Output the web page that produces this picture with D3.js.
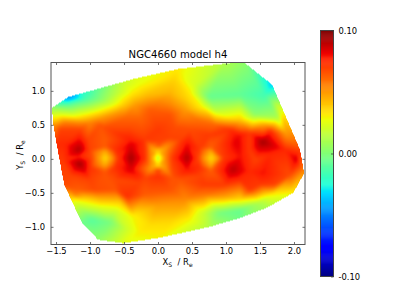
<!DOCTYPE html>
<html>
<head>
<meta charset="utf-8">
<script src="https://cdn.jsdelivr.net/npm/d3@7"></script>
<style>
  html, body { margin: 0; background: #fff; }
  svg { display: block; }
  text { font-family: "DejaVu Sans", sans-serif; fill: #000; }
</style>
</head>
<body>
<div id="chart"></div>
<script>
const titleText = 'NGC4660 model h4';
const xTicks = [-1.5, -1, -0.5, 0, 0.5, 1, 1.5, 2];
const yTicks = [-1, -0.5, 0, 0.5, 1];
const barTicks = [-0.1, 0, 0.1];

// bin positions (in Re) and h4 value
const xs = [
  -1.56, -1.54, -1.49, -1.38, -1.26, -1.12, -0.88, -0.51, 0.03, 0.76, 1.21, 1.60, 1.99, 2.15, 2.09, 1.82, 1.68, 1.25, 0.98, 0.29, -0.34, -0.51, -1.10, -1.32,
  -1.32, -1.07, -0.85, -0.56, -0.29, 0.25, 0.54, 0.47, 0.76, 0.66, 0.84, 1.01, 1.21, 1.57, 1.76, 1.43,
  -1.44, -1.22, -0.85, -0.49, -0.37, -0.16, 0.18, 0.40, 0.54, 0.84, 1.21, 1.57, 1.87,
  -1.44, -1.15, -0.85, -0.49, -0.12, 0.18, 0.47, 0.76, 1.06, 1.35, 1.65, 1.54, 1.87,
  -1.37, -0.78, -0.41, 0, 0.03, 0.32, 0.76, 1.16, -1.03,
  -1.16, -1.15, -0.97, -0.78, -0.59, -0.40, -0.40, -0.40, -0.10, 0.10, -0.10, 0.10, 0, -0.19, 0.21, 0.43, 0.43, 0.43, 0.59, 0.78, 0.97, 1.21, 1.10, 1.43, 1.65, -1.40, 2.04, 1.54, 1.94,
  -1.29, -1.0, -0.78, -0.63, -0.46, -0.26, 0, 0.32, 0.62, 0.99, 1.35, 1.72,
  -1.22, -1.07, -0.85, -0.56, -0.37, 0, 0.40, 0.69, 0.99, 1.21, 1.57, 1.82,
  -0.97, -0.71, -0.46, -0.26, -0.12, 0.18, 0.47, 0.66, 0.91, 1.21, 1.50, 1.68, -0.85, -1.15, -0.63, -0.78,
  0, 0, -0.19, 0.18, -0.19, 0.21, -0.78, -0.78, 0.78, 0.78, -0.87, -0.68, 0.68, 0.88,
  -1.0, -0.26, -0.78, -0.41, 0.25, 1.21, -0.63, -0.63, 0.62, 0.62, -1.0, -1.0,
  -0.63, 0.18, -0.19, 0.69, 1.21, 1.50, -0.93, -1.15, 1.35, 1.35,
  0.04, -0.34, 0.18, 0.40, -0.56, -0.85, -1.15, -1.37,
  0, 0, -0.12, 0.12, -1.16,
  -0.78, -0.78, 0.78, 0.78
];
const ys = [
  0.75, 0.50, 0.21, -0.38, -0.60, -0.94, -1.19, -1.24, -1.16, -1.00, -0.87, -0.72, -0.50, -0.21, 0.13, 0.72, 1.09, 1.43, 1.40, 1.32, 1.18, 1.13, 0.97, 0.91,
  0.79, 0.87, 0.87, 0.99, 1.09, 1.19, 1.09, 0.97, 0.91, 0.76, 0.72, 0.62, 0.94, 0.94, 0.60, 0.65,
  0.65, 0.62, 0.69, 0.79, 0.97, 0.94, 0.97, 0.90, 0.60, 0.50, 0.57, 0.50, 0.38,
  0.43, 0.43, 0.50, 0.60, 0.72, 0.65, 0.43, 0.35, 0.43, 0.38, 0.40, 0.25, 0.13,
  0.21, 0.28, 0.28, 0.43, 0.25, 0.28, 0.24, 0.24, 0.28,
  0.13, -0.07, 0.01, 0.01, 0.01, 0.01, -0.15, 0.19, 0.16, 0.16, -0.14, -0.14, 0.01, 0.01, 0.01, 0.01, 0.19, -0.16, 0.01, 0.01, 0.01, 0.03, -0.16, -0.01, 0.06, -0.01, -0.01, -0.21, -0.24,
  -0.24, -0.31, -0.24, -0.46, -0.56, -0.35, -0.25, -0.31, -0.24, -0.38, -0.46, -0.38,
  -0.53, -0.60, -0.57, -0.63, -0.85, -0.68, -0.60, -0.53, -0.56, -0.60, -0.49, -0.41,
  -0.90, -0.93, -1.04, -1.07, -0.97, -0.93, -0.90, -0.79, -0.79, -0.76, -0.65, -0.53, -0.71, -0.72, -0.79, -1.07,
  0.19, -0.16, 0.28, 0.31, -0.28, -0.28, 0.18, -0.18, 0.18, -0.18, 0.01, 0.01, 0.01, 0.01,
  0.54, 0.60, 0.46, 0.46, 0.46, 0.35, 0.13, -0.13, 0.16, -0.13, 0.13, -0.13,
  -0.31, -0.46, -0.53, -0.38, -0.31, -0.38, -0.46, -0.46, 0.13, -0.19,
  0.87, 0.79, 0.79, 0.72, 0.69, 0.60, 0.54, 0.54,
  0.13, -0.12, 0.01, 0.01, 0.03,
  0.10, -0.08, 0.10, -0.08
];
const h4 = [
  0.005, 0.05, 0.075, 0.068, 0.03, -0.005, 0.005, 0.025, 0.03, 0.012, -0.004, 0.01, 0.03, 0.05, 0.07, 0.03, -0.035, 0.005, 0.012, 0.032, 0.024, 0.018, -0.022, -0.05,
  -0.008, -0.012, 0.002, 0.018, 0.028, 0.036, 0.022, 0.032, -0.006, 0.03, 0.015, 0.03, -0.008, -0.016, 0.012, 0.004,
  0.025, 0.03, 0.033, 0.04, 0.032, 0.042, 0.044, 0.038, 0.058, 0.062, 0.04, 0.048, 0.05,
  0.07, 0.07, 0.066, 0.062, 0.064, 0.066, 0.068, 0.072, 0.074, 0.072, 0.076, 0.094, 0.076,
  0.076, 0.064, 0.078, 0.072, 0.07, 0.07, 0.066, 0.084, 0.07,
  0.092, 0.094, 0.068, 0.035, 0.072, 0.094, 0.085, 0.085, 0.05, 0.05, 0.05, 0.05, 0.015, 0.074, 0.072, 0.092, 0.082, 0.08, 0.07, 0.035, 0.072, 0.08, 0.09, 0.07, 0.076, 0.072, 0.085, 0.08, 0.068,
  0.07, 0.07, 0.066, 0.066, 0.074, 0.07, 0.074, 0.066, 0.07, 0.072, 0.072, 0.07,
  0.055, 0.035, 0.048, 0.04, 0.03, 0.05, 0.054, 0.058, 0.048, 0.035, 0.045, 0.045,
  -0.01, -0.002, 0.02, 0.032, 0.035, 0.036, 0.03, 0.02, -0.002, -0.006, 0.012, 0.03, 0.025, 0.015, 0.018, 0.002,
  0.066, 0.07, 0.072, 0.07, 0.07, 0.066, 0.064, 0.064, 0.064, 0.064, 0.05, 0.05, 0.05, 0.05,
  0.054, 0.062, 0.068, 0.068, 0.068, 0.08, 0.074, 0.074, 0.072, 0.074, 0.07, 0.074,
  0.068, 0.066, 0.064, 0.072, 0.075, 0.072, 0.068, 0.064, 0.072, 0.076,
  0.052, 0.05, 0.055, 0.05, 0.05, 0.05, 0.052, 0.055,
  0.04, 0.04, 0.056, 0.056, 0.078,
  0.045, 0.045, 0.045, 0.045
];

// jet colour table
const jetStops = [0, 0.11, 0.125, 0.34, 0.35, 0.375, 0.64, 0.65, 0.66, 0.89, 0.91, 1];
const jetColors = ['#00007f', '#0000ff', '#0000ff', '#00dbff', '#00e5f7', '#1effd8', '#ecff0a', '#f4f400', '#ffea00', '#ff1e00', '#ed0000', '#7f0000'];

const width = 409, height = 307;
const plot = { left: 51, right: 305, top: 62.5, bottom: 244.5 };
const bar = { left: 320.5, right: 333.5, top: 30.5, bottom: 276.5 };

const x = d3.scaleLinear().domain([-1.574, 2.162]).range([plot.left, plot.right]);
const y = d3.scaleLinear().domain([-1.26, 1.417]).range([plot.bottom, plot.top]);
const norm = d3.scaleLinear().domain([-0.1, 0.1]).range([0, 1]).clamp(true);
const jet = d3.scaleLinear().domain(jetStops).range(jetColors);
const colorOf = (v) => jet(norm(v));

const svg = d3.select('#chart').append('svg').attr('width', width).attr('height', height);

// linear interpolation over the triangulated bins, then a light smooth inside the outline
function rasterMap() {
  const w = plot.right - plot.left, h = Math.round(plot.bottom - plot.top);
  const field = new Float64Array(w * h).fill(NaN);
  const px = xs.map((d) => x(d) - plot.left);
  const py = ys.map((d) => y(d) - plot.top);
  const tri = d3.Delaunay.from(xs.map((d, i) => [px[i], py[i]])).triangles;
  for (let t = 0; t < tri.length; t += 3) {
    const a = tri[t], b = tri[t + 1], c = tri[t + 2];
    const det = (py[b] - py[c]) * (px[a] - px[c]) + (px[c] - px[b]) * (py[a] - py[c]);
    if (!det) continue;
    const x0 = Math.max(0, Math.floor(d3.min([px[a], px[b], px[c]])));
    const x1 = Math.min(w - 1, Math.ceil(d3.max([px[a], px[b], px[c]])));
    const y0 = Math.max(0, Math.floor(d3.min([py[a], py[b], py[c]])));
    const y1 = Math.min(h - 1, Math.ceil(d3.max([py[a], py[b], py[c]])));
    for (let j = y0; j <= y1; j++) {
      for (let i = x0; i <= x1; i++) {
        const u = ((py[b] - py[c]) * (i + 0.5 - px[c]) + (px[c] - px[b]) * (j + 0.5 - py[c])) / det;
        const v = ((py[c] - py[a]) * (i + 0.5 - px[c]) + (px[a] - px[c]) * (j + 0.5 - py[c])) / det;
        const s = 1 - u - v;
        if (u < -0.001 || v < -0.001 || s < -0.001) continue;
        field[j * w + i] = u * h4[a] + v * h4[b] + s * h4[c];
      }
    }
  }
  const canvas = document.createElement('canvas');
  canvas.width = w;
  canvas.height = h;
  const ctx = canvas.getContext('2d');
  const img = ctx.createImageData(w, h);
  for (let j = 0; j < h; j++) {
    for (let i = 0; i < w; i++) {
      if (isNaN(field[j * w + i])) continue;
      let sum = 0, n = 0;
      for (let dj = -2; dj <= 2; dj++) {
        for (let di = -2; di <= 2; di++) {
          const f = field[(j + dj) * w + i + di];
          if (j + dj >= 0 && j + dj < h && i + di >= 0 && i + di < w && !isNaN(f)) { sum += f; n++; }
        }
      }
      const col = d3.rgb(colorOf(sum / n));
      const k = (j * w + i) * 4;
      img.data[k] = col.r;
      img.data[k + 1] = col.g;
      img.data[k + 2] = col.b;
      img.data[k + 3] = 255;
    }
  }
  ctx.putImageData(img, 0, 0);
  return canvas.toDataURL();
}

svg.append('image')
  .attr('x', plot.left)
  .attr('y', plot.top)
  .attr('width', plot.right - plot.left)
  .attr('height', Math.round(plot.bottom - plot.top))
  .attr('href', rasterMap());

const tickFont = 8.4;
const fmt1 = d3.format('.1f');
function styleAxis(g) {
  g.selectAll('.domain').remove();
  g.selectAll('.tick line').attr('stroke', '#333').attr('stroke-width', 0.7);
  g.selectAll('.tick text').attr('font-size', tickFont).style('font-family', '"DejaVu Sans", sans-serif');
}

svg.append('g').attr('transform', `translate(0,${plot.bottom})`)
  .call(d3.axisBottom(x).tickValues(xTicks).tickFormat((d) => fmt1(d)).tickSizeInner(-2.5).tickPadding(3.5))
  .call(styleAxis);
svg.append('g').attr('transform', `translate(0,${plot.top})`)
  .call(d3.axisTop(x).tickValues(xTicks).tickFormat('').tickSizeInner(-2.5))
  .call(styleAxis);
svg.append('g').attr('transform', `translate(${plot.left},0)`)
  .call(d3.axisLeft(y).tickValues(yTicks).tickFormat((d) => fmt1(d)).tickSizeInner(-2.5).tickPadding(6))
  .call(styleAxis);
svg.append('g').attr('transform', `translate(${plot.right},0)`)
  .call(d3.axisRight(y).tickValues(yTicks).tickFormat('').tickSizeInner(-2.5))
  .call(styleAxis);

svg.append('rect')
  .attr('x', plot.left).attr('y', plot.top)
  .attr('width', plot.right - plot.left).attr('height', plot.bottom - plot.top)
  .attr('fill', 'none').attr('stroke', '#555').attr('stroke-width', 1);

svg.append('text')
  .attr('x', (plot.left + plot.right) / 2).attr('y', 58)
  .attr('text-anchor', 'middle').attr('font-size', 10.1)
  .text(titleText);

function subLabel(sel, main, sub) {
  sel.attr('font-size', tickFont).attr('text-anchor', 'middle');
  sel.append('tspan').text(main + '');
  sel.append('tspan').attr('font-size', 6).attr('dy', 2).text('S');
  sel.append('tspan').attr('dy', -2).attr('dx', 3).text(' / R');
  sel.append('tspan').attr('font-size', 6).attr('dy', 2).text(sub);
}

svg.append('text').attr('x', 177.5).attr('y', 264.5).call(subLabel, 'X', 'e');
svg.append('text').attr('transform', 'translate(23,155) rotate(-90)').call(subLabel, 'Y', 'e');

// colour bar
const barY = d3.scaleLinear().domain([-0.1, 0.1]).range([bar.bottom, bar.top]);
svg.append('g').selectAll('rect')
  .data(d3.range(256))
  .join('rect')
  .attr('x', bar.left)
  .attr('width', bar.right - bar.left)
  .attr('y', (d) => barY(-0.1 + (d + 1) * 0.2 / 256))
  .attr('height', (bar.bottom - bar.top) / 256 + 0.5)
  .attr('fill', (d) => jet((d + 0.5) / 256));
svg.append('rect')
  .attr('x', bar.left).attr('y', bar.top)
  .attr('width', bar.right - bar.left).attr('height', bar.bottom - bar.top)
  .attr('fill', 'none').attr('stroke', '#444').attr('stroke-width', 1);

svg.append('g').attr('transform', `translate(${bar.right},0)`)
  .call(d3.axisRight(barY).tickValues(barTicks).tickFormat((d) => d3.format('.2f')(d).replace('−', '-')).tickSizeInner(-2.5).tickPadding(5))
  .call(styleAxis);
</script>
</body>
</html>
